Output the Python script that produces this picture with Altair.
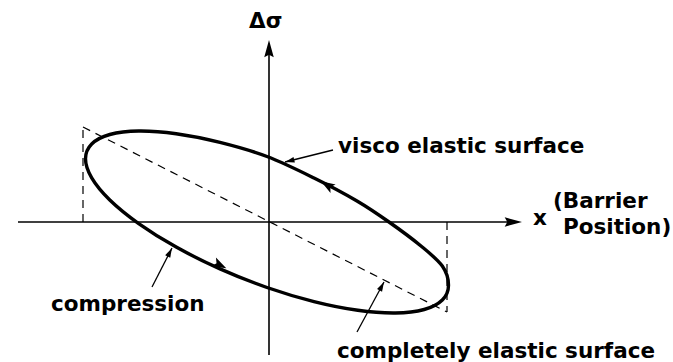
import altair as alt
import pandas as pd

# Drawing units: one unit per screen pixel, origin where the axes cross.
X_DOMAIN = [-269, 404]
Y_DOMAIN = [-140, 222]

# Hysteresis loop traced by the surface pressure (closed, counter-clockwise).
loop_x = [179.5, 173.3, 152.0, 120.0, 88.0, 45.0, -2.0, -49.0, -92.8, -130.3, -159.2, -177.3,
          -183.5, -177.3, -159.2, -130.3, -92.8, -49.0, -2.0, 45.0, 88.8, 126.3, 155.2, 173.3]
loop_y = [-63.2, -44.1, -24.0, 0.0, 21.0, 44.0, 65.5, 79.6, 88.3, 91.0, 87.5, 78.0,
          63.2, 44.1, 22.0, -1.6, -25.1, -46.9, -65.5, -79.6, -88.3, -91.0, -87.5, -78.0]

# Axes (x from, x to, y from, y to)
axis_x1 = [-251, 0]
axis_x2 = [240, 0]
axis_y1 = [0, -133]
axis_y2 = [0, 170]

# Axis arrow heads: tip position and heading (degrees clockwise from up)
axis_tip_x = [253, 0]
axis_tip_y = [0, 182]
axis_tip_a = [90, 0]

# Purely elastic response: diagonal and the two end verticals
dash_x1 = [-186, -186, 178]
dash_x2 = [178, -186, 178]
dash_y1 = [95, 0, 0]
dash_y2 = [-90, 95, -90]

# Direction of travel around the loop
flow_x = [58, -49]
flow_y = [37, -43]
flow_a = [301, 117]

# Label pointers: start of the leader and arrow tip
ptr_x1 = [64, -117, 88]
ptr_y1 = [72, -65, -110]
ptr_x2 = [16, -97, 115]
ptr_y2 = [60, -26, -60]
ptr_a = [256, 27, 28]

# Labels (left edge, baseline)
lab_text = ["Δσ", "visco elastic surface", "x", "(Barrier", "Position)",
            "completely elastic surface", "compression"]
lab_x = [-20, 69, 264, 284, 294, 68, -218]
lab_y = [194, 69, -3, 14, -12, -136, -89]

xs = alt.Scale(domain=X_DOMAIN, nice=False, zero=False)
ys = alt.Scale(domain=Y_DOMAIN, nice=False, zero=False)

loop_df = pd.DataFrame({"i": range(len(loop_x)), "x": loop_x, "y": loop_y})
axis_df = pd.DataFrame({"x": axis_x1, "x2": axis_x2, "y": axis_y1, "y2": axis_y2})
axis_tip_df = pd.DataFrame({"x": axis_tip_x, "y": axis_tip_y, "a": axis_tip_a})
dash_df = pd.DataFrame({"x": dash_x1, "x2": dash_x2, "y": dash_y1, "y2": dash_y2})
flow_df = pd.DataFrame({"x": flow_x, "y": flow_y, "a": flow_a})
ptr_df = pd.DataFrame({"x": ptr_x1, "y": ptr_y1, "x2": ptr_x2, "y2": ptr_y2, "a": ptr_a})
lab_df = pd.DataFrame({"t": lab_text, "x": lab_x, "y": lab_y})

X = alt.X("x:Q", scale=xs, axis=None)
Y = alt.Y("y:Q", scale=ys, axis=None)

loop = alt.Chart(loop_df).mark_line(
    interpolate="cardinal-closed", color="black", strokeWidth=3.4
).encode(x=X, y=Y, order=alt.Order("i:Q"))

axes = alt.Chart(axis_df).mark_rule(color="black", strokeWidth=1.6).encode(
    x=X, y=Y, x2="x2:Q", y2="y2:Q"
)

axis_heads = alt.Chart(axis_tip_df).mark_point(
    shape="M0,0L0.55,2L0,1.7L-0.55,2Z", filled=True, opacity=1, color="black", size=300
).encode(x=X, y=Y, angle=alt.Angle("a:Q", scale=None))

dashes = alt.Chart(dash_df).mark_rule(
    color="black", strokeWidth=1.2, strokeDash=[8, 6]
).encode(x=X, y=Y, x2="x2:Q", y2="y2:Q")

flow = alt.Chart(flow_df).mark_point(
    shape="M0,-1L0.7,1L0,0.55L-0.7,1Z", filled=True, opacity=1, color="black", size=200
).encode(x=X, y=Y, angle=alt.Angle("a:Q", scale=None))

leaders = alt.Chart(ptr_df).mark_rule(color="black", strokeWidth=1.3).encode(
    x=X, y=Y, x2="x2:Q", y2="y2:Q"
)

leader_heads = alt.Chart(ptr_df).mark_point(
    shape="M0,0L0.6,2L-0.6,2Z", filled=True, opacity=1, color="black", size=90
).encode(
    x=alt.X("x2:Q", scale=xs, axis=None),
    y=alt.Y("y2:Q", scale=ys, axis=None),
    angle=alt.Angle("a:Q", scale=None),
)

labels = alt.Chart(lab_df).mark_text(
    font="DejaVu Sans", fontWeight="bold", fontSize=21.5, baseline="alphabetic",
    color="black", align="left"
).encode(x=X, y=Y, text="t:N")

chart = alt.layer(
    dashes, axes, axis_heads, loop, flow, leaders, leader_heads, labels
).properties(
    width=673, height=362, padding=0, autosize=alt.AutoSizeParams(type="none")
).configure_view(stroke=None)

chart.save("out.html", embed_options={"renderer": "svg", "actions": False})
